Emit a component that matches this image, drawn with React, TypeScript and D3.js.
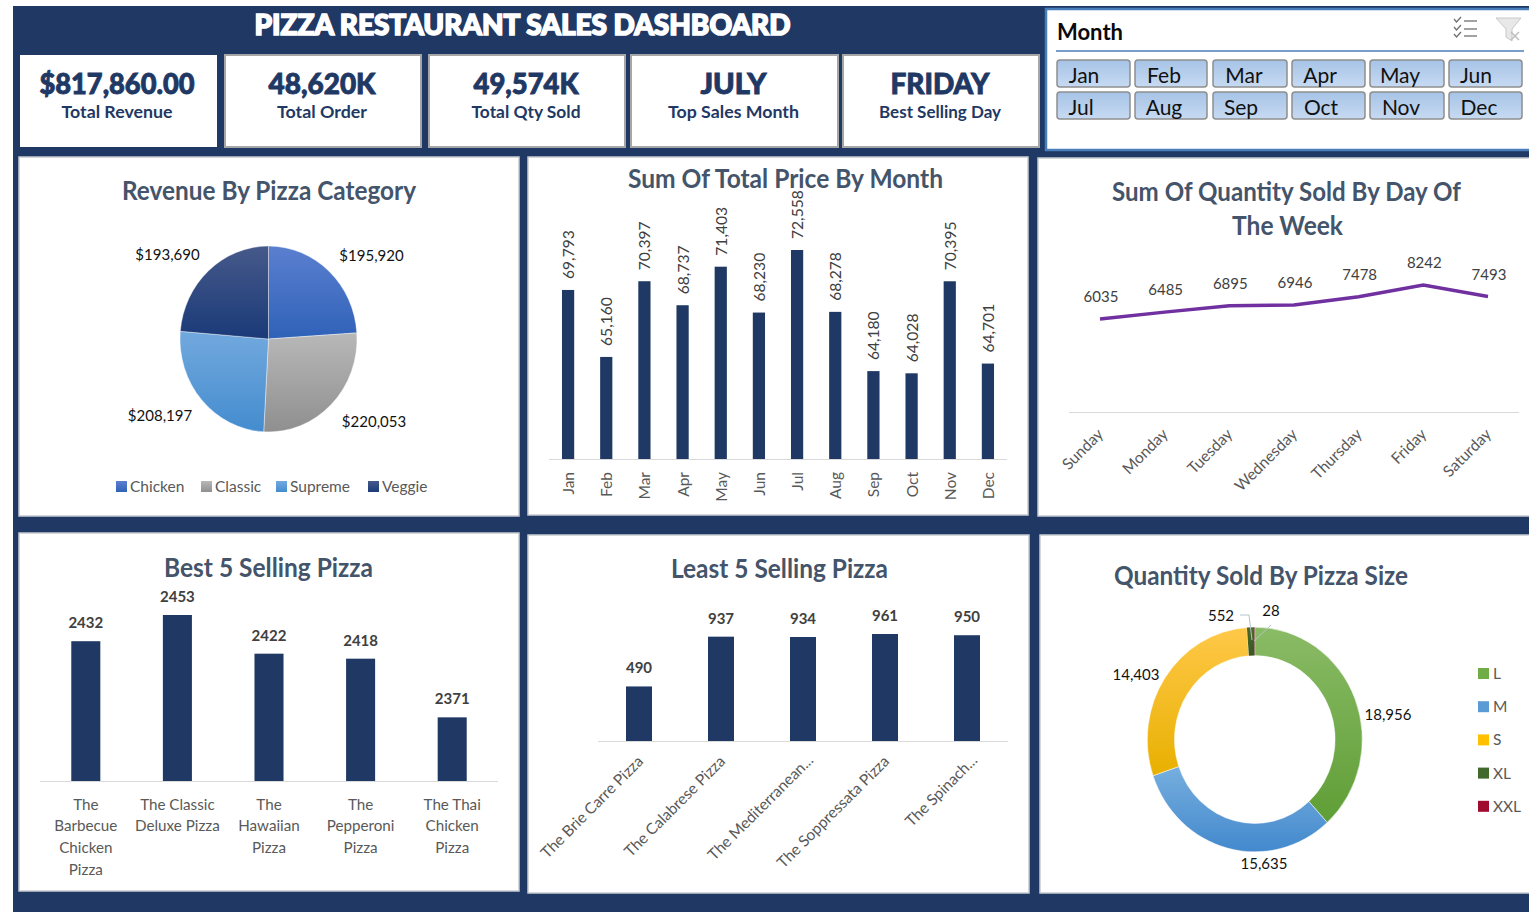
import React from "react";
import * as d3 from "d3";

const navy = "#1f3864";
const titleGrey = "#44546a";
const textGrey = "#595959";
const FONT = "Lato, 'Open Sans', sans-serif";

const kpiValues = ["$817,860.00", "48,620K", "49,574K", "JULY", "FRIDAY"];
const kpiLabels = ["Total Revenue", "Total Order", "Total Qty Sold", "Top Sales Month", "Best Selling Day"];
const slicerMonths = ["Jan", "Feb", "Mar", "Apr", "May", "Jun", "Jul", "Aug", "Sep", "Oct", "Nov", "Dec"];

const pieCategories = ["Chicken", "Classic", "Supreme", "Veggie"];
const pieValues = [195920, 220053, 208197, 193690];
const pieLightDark = [["#5b7fcf", "#2f62b8"], ["#b8b8b8", "#8f8f8f"], ["#72a9de", "#448ccf"], ["#46598a", "#1a3a78"]];

const months = ["Jan", "Feb", "Mar", "Apr", "May", "Jun", "Jul", "Aug", "Sep", "Oct", "Nov", "Dec"];
const monthValues = [69793, 65160, 70397, 68737, 71403, 68230, 72558, 68278, 64180, 64028, 70395, 64701];

const days = ["Sunday", "Monday", "Tuesday", "Wednesday", "Thursday", "Friday", "Saturday"];
const dayValues = [6035, 6485, 6895, 6946, 7478, 8242, 7493];

const bestLabels = [["The", "Barbecue", "Chicken", "Pizza"], ["The Classic", "Deluxe Pizza"], ["The", "Hawaiian", "Pizza"], ["The", "Pepperoni", "Pizza"], ["The Thai", "Chicken", "Pizza"]];
const bestValues = [2432, 2453, 2422, 2418, 2371];

const leastLabels = ["The Brie Carre Pizza", "The Calabrese Pizza", "The Mediterranean...", "The Soppressata Pizza", "The Spinach..."];
const leastValues = [490, 937, 934, 961, 950];

const sizeLabels = ["L", "M", "S", "XL", "XXL"];
const sizeValues = [18956, 15635, 14403, 552, 28];
const sizeLightDark = [["#8abb66", "#5f9e36"], ["#76aede", "#4389cd"], ["#ffc849", "#e8b000"], ["#4a6a2c", "#38571f"], ["#a5283c", "#90142b"]];
const sizeLegend = ["#70ad47", "#5b9bd5", "#ffc000", "#43682b", "#9e0b2f"];

const T = (p: any) => <text fontFamily={FONT} {...p} />;

const band = (dom: any[], range: [number, number], p: number) =>
  d3.scaleBand<any>().domain(dom).range(range).paddingInner(p).paddingOuter(p / 2);

const Panel = ({ x, y, w, h }: any) => <rect x={x} y={y} width={w} height={h} fill="#fff" stroke="#c8cad0" strokeWidth={1.5} />;

const ChartTitle = ({ x, y, w, children }: any) => (
  <T x={x} y={y - 1.5} textAnchor="middle" dominantBaseline="central" fontSize={26} fontWeight={700} fill={titleGrey}
     textLength={w} lengthAdjust="spacingAndGlyphs">{children}</T>
);

function KPIs() {
  const boxes = [[20, 197, 92], [225, 196, 92], [429, 196, 92], [631, 207, 92], [843, 196, 92]];
  const valW = [155, 107, 105, 66, 99];
  const labW = [111, 90, 109, 131, 122];
  return <g>
    {boxes.map(([x, w, h], i) => {
      const cx = i === 0 ? x + w / 2 - 0.5 : x + w / 2;
      return <g key={i}>
        <rect x={x} y={55} width={w} height={h} fill="#fff" stroke={i === 0 ? "none" : "#a6a6a6"} strokeWidth={i === 0 ? 0 : 2} />
        <T x={cx - 1} y={82.5} textAnchor="middle" dominantBaseline="central" fontSize={29} fontWeight={900} fill={navy}
           stroke={navy} strokeWidth={0.9} textLength={valW[i]} lengthAdjust="spacingAndGlyphs">{kpiValues[i]}</T>
        <T x={cx - 1} y={111.5} textAnchor="middle" dominantBaseline="central" fontSize={17} fontWeight={700} fill={navy}
           textLength={labW[i]} lengthAdjust="spacingAndGlyphs">{kpiLabels[i]}</T>
      </g>;
    })}
  </g>;
}

function Slicer() {
  const xs = [1057, 1135, 1213, 1292, 1370, 1449];
  const ws = [73, 72, 74, 73, 74, 73];
  const textX = [1084, 1164, 1244, 1320, 1400, 1476];
  const textX2 = [1081, 1164, 1241, 1321, 1401, 1479];
  return <g>
    <defs>
      <linearGradient id="btn" x1="0" x2="0" y1="0" y2="1">
        <stop offset="0" stopColor="#a6c3e6" /><stop offset="1" stopColor="#c7daf2" />
      </linearGradient>
    </defs>
    <rect x={1046} y={9} width={490} height={141} fill="#fff" stroke="#4a7ebb" strokeWidth={2.5} />
    <T x={1057} y={31} dominantBaseline="central" fontSize={22} fontWeight={700} fill="#0a0a0a" textLength={66} lengthAdjust="spacingAndGlyphs">Month</T>
    <line x1={1056} x2={1524} y1={51} y2={51} stroke="#4a7ebb" strokeWidth={1.5} />
    {slicerMonths.map((m, i) => {
      const col = i % 6, row = Math.floor(i / 6);
      const y = row === 0 ? 60 : 92;
      return <g key={m}>
        <rect x={xs[col]} y={y} width={ws[col]} height={27} rx={3} fill="url(#btn)" stroke="#8e8e8e" strokeWidth={1.5} />
        <T x={(row === 0 ? textX : textX2)[col]} y={y + 14} textAnchor="middle" dominantBaseline="central" fontSize={21} fill="#111">{m}</T>
      </g>;
    })}
    <g stroke="#707070" strokeWidth={1.3} fill="none">
      {[21, 29, 36].map((y) => <g key={y}>
        <path d={`M1454 ${y - 2} l2.5 3 l4.5 -5`} />
        <line x1={1464} x2={1477} y1={y} y2={y} />
      </g>)}
    </g>
    <path d="M1496 18 H1521 L1512 29 V41 L1506 37 V29 Z" fill="#e8e8e8" stroke="#c8c8c8" />
    <path d="M1511 32 l8 8 M1519 32 l-8 8" stroke="#bdbdbd" strokeWidth={1.5} />
  </g>;
}

function PieChart() {
  const arcs = d3.pie<number>().sort(null)(pieValues);
  const arc = d3.arc<any>().innerRadius(0).outerRadius(88.5);
  const labelPos: [number, number][] = [[371.5, 255], [374, 421], [160, 415], [167.5, 254]];
  const legendX = [116, 201, 276, 368];
  return <g>
    <Panel x={19} y={157} w={500} h={359} />
    <ChartTitle x={269} y={191} w={294}>Revenue By Pizza Category</ChartTitle>
    <defs>
      {pieLightDark.map((c, i) => <linearGradient key={i} id={`pg${i}`} x1="0" x2="0" y1="0" y2="1">
        <stop offset="0" stopColor={c[0]} /><stop offset="1" stopColor={c[1]} />
      </linearGradient>)}
    </defs>
    <g transform="translate(268.5,339) scale(1,1.05)">
      {arcs.map((a, i) => <path key={i} d={arc(a) as string} fill={`url(#pg${i})`} stroke="#fff" strokeWidth={0.4} />)}
    </g>
    {pieValues.map((v, i) => <T key={i} x={labelPos[i][0]} y={labelPos[i][1]} textAnchor="middle" dominantBaseline="central" fontSize={15} fill="#111">{d3.format("$,")(v)}</T>)}
    {pieCategories.map((c, i) => <g key={c}>
      <rect x={legendX[i]} y={481} width={11} height={11} fill={`url(#pg${i})`} />
      <T x={legendX[i] + 14} y={486} dominantBaseline="central" fontSize={15.5} fill={textGrey}>{c}</T>
    </g>)}
  </g>;
}

function MonthChart() {
  const x = band(months, [549, 1007], 0.68);
  const y = d3.scaleLinear().domain([58100, 72558]).range([459, 250]);
  return <g>
    <Panel x={528} y={157} w={500} h={358} />
    <ChartTitle x={785.5} y={179} w={315}>Sum Of Total Price By Month</ChartTitle>
    <line x1={549} x2={1007} y1={459.5} y2={459.5} stroke="#d9d9d9" />
    {months.map((m, i) => {
      const cx = x(m)! + x.bandwidth() / 2;
      return <g key={m}>
        <rect x={x(m)} y={y(monthValues[i])} width={x.bandwidth()} height={459 - y(monthValues[i])} fill={navy} />
        <T transform={`translate(${cx},${y(monthValues[i]) - 11}) rotate(-90)`} dominantBaseline="central" fontSize={15.6} fill="#404040">{d3.format(",")(monthValues[i])}</T>
        <T transform={`translate(${cx},472) rotate(-90)`} textAnchor="end" dominantBaseline="central" fontSize={15.5} fill={textGrey}>{m}</T>
      </g>;
    })}
  </g>;
}

function DayChart() {
  const x = d3.scalePoint<string>().domain(days).range([1100, 1488]);
  const y = d3.scaleLinear().domain([0, 8242]).range([412, 285]);
  const line = d3.line<number>().x((_, i) => x(days[i])!).y((d) => y(d));
  return <g>
    <Panel x={1038} y={158} w={495} h={358} />
    <ChartTitle x={1286.5} y={192} w={349}>Sum Of Quantity Sold By Day Of</ChartTitle>
    <ChartTitle x={1287.5} y={226} w={111}>The Week</ChartTitle>
    <line x1={1069} x2={1519} y1={412.5} y2={412.5} stroke="#d9d9d9" />
    <path d={line(dayValues) as string} fill="none" stroke="#7030a0" strokeWidth={3.4} />
    {days.map((d, i) => <g key={d}>
      <T x={x(d)! + 1} y={y(dayValues[i]) - 23} textAnchor="middle" dominantBaseline="central" fontSize={15} fill="#404040">{dayValues[i]}</T>
      <T transform={`translate(${x(d)!},${431}) rotate(-45)`} textAnchor="end" dominantBaseline="central" fontSize={15.7} fill={textGrey}>{d}</T>
    </g>)}
  </g>;
}

function BestChart() {
  const x = band(d3.range(5), [40, 498], 0.683);
  const y = d3.scaleLinear().domain([2320, 2453]).range([781, 615]);
  return <g>
    <Panel x={19} y={533} w={500} h={358} />
    <ChartTitle x={268.5} y={568} w={209}>Best 5 Selling Pizza</ChartTitle>
    <line x1={40} x2={498} y1={781.5} y2={781.5} stroke="#d9d9d9" />
    {bestValues.map((v, i) => {
      const cx = x(i)! + x.bandwidth() / 2;
      return <g key={i}>
        <rect x={x(i)} y={y(v)} width={x.bandwidth()} height={781 - y(v)} fill={navy} />
        <T x={cx} y={y(v) - 19} textAnchor="middle" dominantBaseline="central" fontSize={15} fontWeight={700} fill="#404040">{v}</T>
        {bestLabels[i].map((l, j) => <T key={j} x={cx} y={803.5 + j * 21.7} textAnchor="middle" dominantBaseline="central" fontSize={15.2} fill={textGrey}>{l}</T>)}
      </g>;
    })}
  </g>;
}

function LeastChart() {
  const x = band(d3.range(5), [598, 1008], 0.683);
  const y = d3.scaleLinear().domain([0, 961]).range([741, 634]);
  return <g>
    <Panel x={528} y={535} w={501} h={358} />
    <ChartTitle x={779.5} y={569} w={217}>Least 5 Selling Pizza</ChartTitle>
    <line x1={598} x2={1008} y1={741.5} y2={741.5} stroke="#d9d9d9" />
    {leastValues.map((v, i) => {
      const cx = x(i)! + x.bandwidth() / 2;
      const extra = leastLabels[i].endsWith("...") ? 6 : 0;
      return <g key={i}>
        <rect x={x(i)} y={y(v)} width={x.bandwidth()} height={741 - y(v)} fill={navy} />
        <T x={cx} y={y(v) - 19} textAnchor="middle" dominantBaseline="central" fontSize={15} fontWeight={700} fill="#404040">{v}</T>
        <T transform={`translate(${cx + 1 + extra},${758 - extra / 6}) rotate(-45)`} textAnchor="end" dominantBaseline="central" fontSize={15.5} fill={textGrey}>{leastLabels[i]}</T>
      </g>;
    })}
  </g>;
}

function SizeChart() {
  const arcs = d3.pie<number>().sort(null)(sizeValues);
  const arc = d3.arc<any>().innerRadius(80.3).outerRadius(107.5);
  const labelPos: [number, number][] = [[1388, 714], [1264, 863], [1136, 674], [1221, 615], [1271, 610]];
  return <g>
    <Panel x={1040} y={535} w={495} h={358} />
    <ChartTitle x={1261} y={576} w={294}>Quantity Sold By Pizza Size</ChartTitle>
    <defs>
      {sizeLightDark.map((c, i) => <linearGradient key={i} id={`sg${i}`} x1="0" x2="0" y1="0" y2="1">
        <stop offset="0" stopColor={c[0]} /><stop offset="1" stopColor={c[1]} />
      </linearGradient>)}
    </defs>
    <g transform="translate(1254.8,739.5) scale(1,1.045)">
      {arcs.map((a, i) => <path key={i} d={arc(a) as string} fill={`url(#sg${i})`} stroke="#fff" strokeWidth={i < 3 ? 0.5 : 0} />)}
    </g>
    <path d="M1240 615 H1249 L1252 640" fill="none" stroke="#b8c2cc" strokeWidth={1} />
    <path d="M1271 625 L1254 641" fill="none" stroke="#b8c2cc" strokeWidth={1} />
    {sizeValues.map((v, i) => <T key={i} x={labelPos[i][0]} y={labelPos[i][1]} textAnchor="middle" dominantBaseline="central" fontSize={15} fill="#111">{d3.format(",")(v)}</T>)}
    {sizeLabels.map((l, i) => <g key={l}>
      <rect x={1478} y={668 + i * 33.2} width={11} height={11} fill={sizeLegend[i]} />
      <T x={1493} y={673 + i * 33.2} dominantBaseline="central" fontSize={15.5} fill={textGrey}>{l}</T>
    </g>)}
  </g>;
}

export default function App() {
  return (
    <svg width={1529} height={912} style={{ position: "absolute", left: 0, top: 0, background: "#fff", display: "block" }}>
      <rect x={13} y={6} width={1516} height={906} fill={navy} />
      <T x={522.5} y={24} textAnchor="middle" dominantBaseline="central" fontSize={28} fontWeight={900} fill="#fff"
         stroke="#fff" strokeWidth={1.6} textLength={536} lengthAdjust="spacingAndGlyphs">PIZZA RESTAURANT SALES DASHBOARD</T>
      <KPIs />
      <Slicer />
      <PieChart />
      <MonthChart />
      <DayChart />
      <BestChart />
      <LeastChart />
      <SizeChart />
    </svg>
  );
}
